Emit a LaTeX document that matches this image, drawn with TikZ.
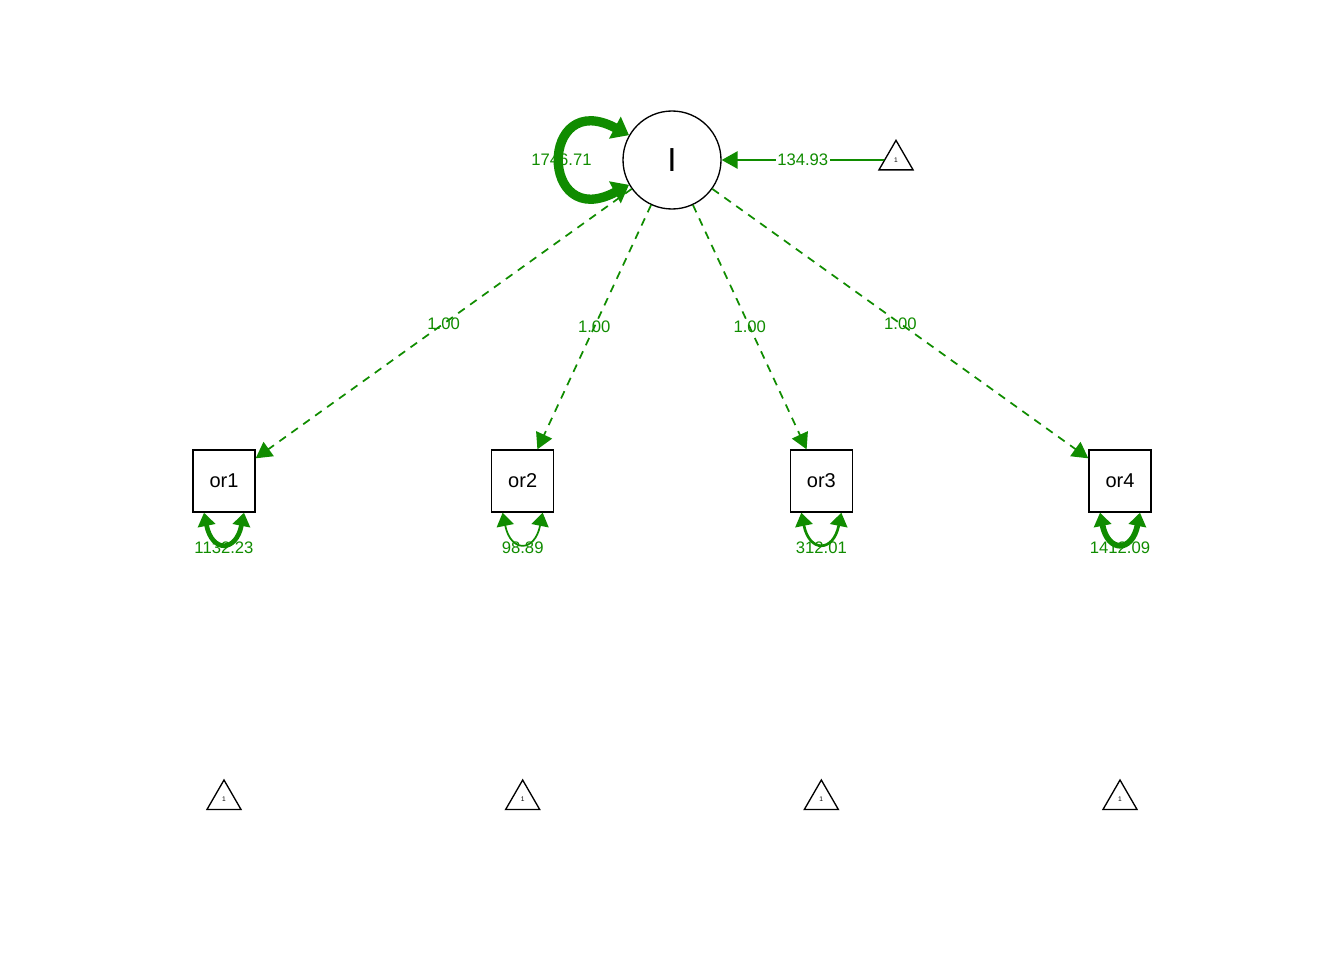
\documentclass[tikz,border=0pt]{standalone}
\usepackage{fontspec}
\setmainfont{Liberation Sans}
\usetikzlibrary{arrows.meta,shapes.geometric}
\definecolor{pathgreen}{RGB}{16,140,0}

\begin{document}
\begin{tikzpicture}[x=0.75pt,y=-0.75pt,>={Triangle[length=12pt,width=13pt]},node distance=224pt,
  latent node/.style={circle,draw,line width=1pt,minimum size=73.5pt,inner sep=0pt,font=\fontsize{25}{25}\selectfont},
  manifest node/.style={rectangle,draw,line width=1pt,minimum size=46.5pt,inner sep=0pt,font=\fontsize{15}{15}\selectfont},
  mean node/.style={regular polygon,regular polygon sides=3,draw,line width=1pt,minimum size=29.5pt,inner sep=0pt,font=\fontsize{5}{5}\selectfont},
  loading/.style={->,draw=pathgreen,line width=1.3pt,dash pattern=on 6pt off 5pt},
  intercept/.style={->,draw=pathgreen,line width=1.4pt},
  variance/.style={{Triangle[length=10pt,width=13pt]}-{Triangle[length=10pt,width=13pt]},draw=pathgreen},
  estimate/.style={text=pathgreen,font=\fontsize{12.5}{12.5}\selectfont,inner sep=1pt}]
    \useasboundingbox (0,0) rectangle (1344,960);

    \node[latent node] (I) at (672,160) {I};
    \node[mean node] (t0)[right of = I, node distance=168pt] {1};

    \node[manifest node] (or1) at (224,481) {or1};
    \node[manifest node] (or2)[right of = or1] {or2};
    \node[manifest node] (or3)[right of = or2] {or3};
    \node[manifest node] (or4)[right of = or3] {or4};

    \node[mean node] (t1)[below of = or1, node distance=239pt] {1};
    \node[mean node] (t2)[below of = or2, node distance=239pt] {1};
    \node[mean node] (t3)[below of = or3, node distance=239pt] {1};
    \node[mean node] (t4)[below of = or4, node distance=239pt] {1};

    \path
        (I) edge[loading] node[estimate] {1.00} (or1)
        (I) edge[loading] node[estimate] {1.00} (or2)
        (I) edge[loading] node[estimate] {1.00} (or3)
        (I) edge[loading] node[estimate] {1.00} (or4)
        (t0) edge[intercept] node[estimate,fill=white] {134.93} (I)
    ;

    % variances
    \draw[variance,line width=7pt,{Triangle[length=12pt,width=18pt]}-{Triangle[length=12pt,width=18pt]}]
        (I.150) .. controls +(-90,-48) and +(-90,48) .. node[estimate] {1746.71} (I.210);
    \draw[variance,line width=3.5pt] ([xshift=-15pt]or1.south) .. controls +(8,40) and +(-8,40) .. node[estimate,yshift=-4pt] {1132.23} ([xshift=15pt]or1.south);
    \draw[variance,line width=1.3pt] ([xshift=-15pt]or2.south) .. controls +(8,40) and +(-8,40) .. node[estimate,yshift=-4pt] {98.89} ([xshift=15pt]or2.south);
    \draw[variance,line width=2pt] ([xshift=-15pt]or3.south) .. controls +(8,40) and +(-8,40) .. node[estimate,yshift=-4pt] {312.01} ([xshift=15pt]or3.south);
    \draw[variance,line width=4.3pt] ([xshift=-15pt]or4.south) .. controls +(8,40) and +(-8,40) .. node[estimate,yshift=-4pt] {1412.09} ([xshift=15pt]or4.south);
\end{tikzpicture}
\end{document}
